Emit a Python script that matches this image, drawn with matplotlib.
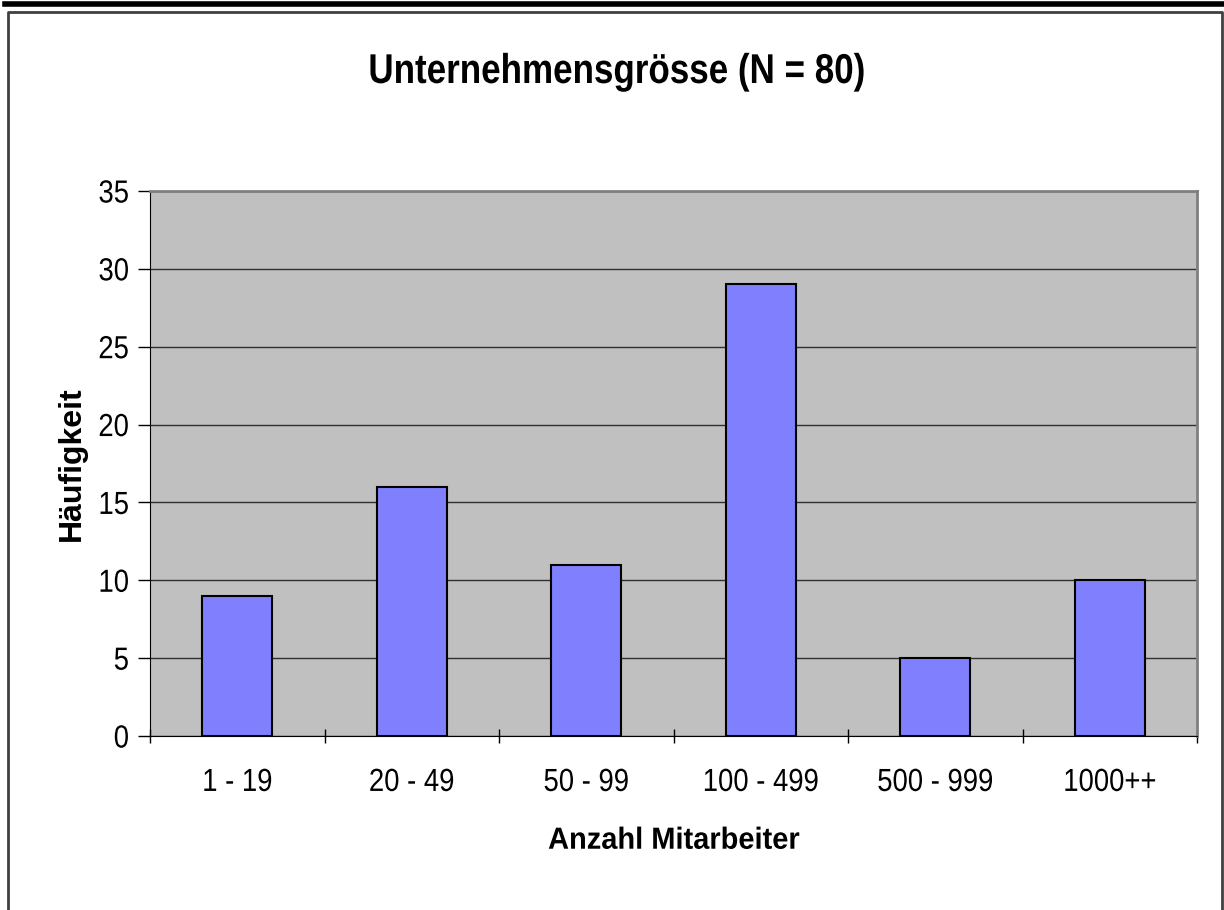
import matplotlib
matplotlib.use("Agg")
import matplotlib.pyplot as plt
from matplotlib.lines import Line2D
from matplotlib.patheffects import AbstractPathEffect
from matplotlib.transforms import Affine2D
import numpy as np

categories = ["1 - 19", "20 - 49", "50 - 99", "100 - 499", "500 - 999", "1000++"]
values = [9, 16, 11, 29, 5, 10]
yticks = [0, 5, 10, 15, 20, 25, 30, 35]

plt.rcParams['font.family'] = ['Liberation Sans', 'DejaVu Sans']


class Condense(AbstractPathEffect):
    """Horizontally condense text glyphs (the reference uses tight, narrow type)."""
    def __init__(self, s, anchor='center', vertical=False):
        super().__init__()
        self.s = s
        self.anchor = anchor
        self.vertical = vertical

    def draw_path(self, renderer, gc, tpath, affine, rgbFace=None):
        bb = tpath.get_extents(affine)
        if self.vertical:
            c = (bb.y0 + bb.y1) / 2
            t = Affine2D().translate(0, -c).scale(1, self.s).translate(0, c)
        else:
            c = bb.x1 if self.anchor == 'right' else (bb.x0 + bb.x1) / 2
            t = Affine2D().translate(-c, 0).scale(self.s, 1).translate(c, 0)
        renderer.draw_path(gc, tpath, affine + t, rgbFace)


fig = plt.figure(figsize=(12.24, 9.10), dpi=100)
ax = fig.add_axes([150/1224, 1-736/910, (1197-150)/1224, (736-191)/910])
ax.set_facecolor('#C0C0C0')

x = np.arange(len(categories))
ax.bar(x, values, width=0.4, color='#8080FF', edgecolor='black', linewidth=1.5, zorder=3)
ax.set_xlim(-0.5, len(categories)-0.5)
ax.set_ylim(0, 35)
ax.set_yticks(yticks)
ax.yaxis.grid(True, color='#303030', linewidth=1, zorder=1)
ax.set_axisbelow(True)

ax.set_xticks(np.arange(-0.5, len(categories)), minor=False)
ax.set_xticklabels([])
ax.set_xticks(x, minor=True)
ax.set_xticklabels(categories, minor=True, fontsize=23)
ax.tick_params(axis='x', which='minor', length=0, pad=23)
ax.tick_params(axis='x', which='major', length=10, width=1, color='black', direction='inout')
ax.tick_params(axis='y', length=9, width=1, labelsize=23, pad=6)

for t in ax.get_xticklabels(minor=True):
    t.set_path_effects([Condense(0.86)])
for t in ax.get_yticklabels():
    t.set_path_effects([Condense(0.86, anchor='right')])

for s in ['top', 'right']:
    ax.spines[s].set_color('#808080')
    ax.spines[s].set_linewidth(2)
ax.spines['left'].set_color('black')
ax.spines['bottom'].set_color('black')

xl = ax.set_xlabel('Anzahl Mitarbeiter', fontsize=22, fontweight='bold', labelpad=20)
xl.set_path_effects([Condense(0.95)])
ax.set_ylabel('Häufigkeit', fontsize=23, fontweight='bold', labelpad=5)

ttl = fig.text(617/1224, 1-72/910, 'Unternehmensgrösse (N = 80)', ha='center', va='center',
               fontsize=30, fontweight='bold')
ttl.set_path_effects([Condense(0.84)])

# outer frame and top bar
fig.add_artist(Line2D([5/1224, 1], [1-3.5/910, 1-3.5/910], color='black', linewidth=4, transform=fig.transFigure))
fig.add_artist(Line2D([8/1224, 8/1224, 1222/1224, 1222/1224], [0, 1-12/910, 1-12/910, 0],
                      color='#404040', linewidth=2, transform=fig.transFigure))

fig.savefig('out.png', dpi=100)
